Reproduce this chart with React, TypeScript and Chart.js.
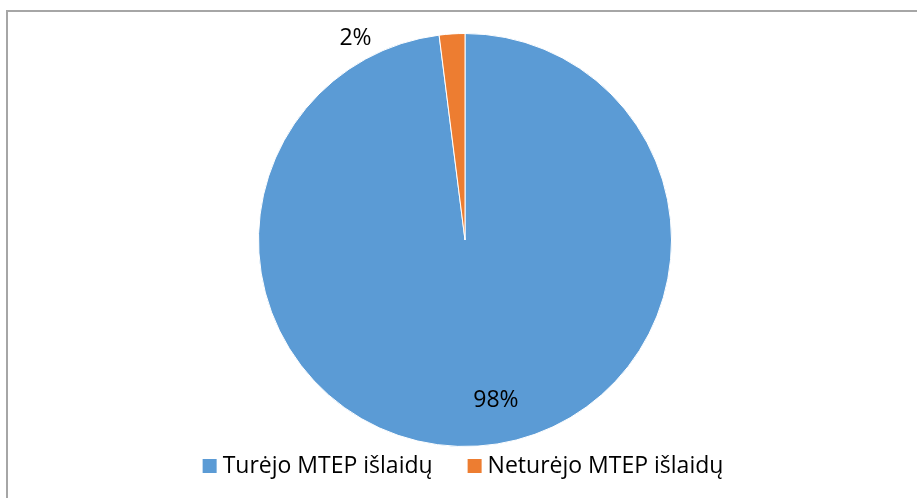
import React, { useEffect, useRef } from "react";
import { Chart, registerables } from "chart.js";

Chart.register(...registerables);

const categories = ["Turėjo MTEP išlaidų", "Neturėjo MTEP išlaidų"];
const values = [98, 2];
const colors = ["#5B9BD5", "#ED7D31"];
const valueLabels = ["98%", "2%"];

const FONT = "'Open Sans', sans-serif";
const FONT_SIZE = 23;

const labelPlugin = {
  id: "excelLabels",
  afterDraw(chart: any) {
    const ctx = chart.ctx as CanvasRenderingContext2D;
    const meta = chart.getDatasetMeta(0);
    const arc0 = meta.data[0] as any;
    const cx = arc0.x;
    const cy = arc0.y;
    const r = arc0.outerRadius;
    ctx.save();
    ctx.fillStyle = "#000000";
    ctx.font = `${FONT_SIZE}px ${FONT}`;
    ctx.textAlign = "center";
    ctx.textBaseline = "middle";
    // inside label for large slice
    ctx.fillText(valueLabels[0], cx + r * 0.15, cy + r * 0.775);
    // outside label for small slice
    ctx.fillText(valueLabels[1], cx - r * 0.53, cy - r * 0.975);

    // legend
    const sq = 14;
    const gapSq = 6;
    const gapItems = 35;
    const widths = categories.map((c) => sq + gapSq + ctx.measureText(c).width);
    const total = widths.reduce((a, b) => a + b, 0) + gapItems * (categories.length - 1);
    let x = cx - total / 2 - 2;
    const y = chart.chartArea.bottom + 19;
    ctx.textAlign = "left";
    categories.forEach((c, i) => {
      ctx.fillStyle = colors[i];
      ctx.fillRect(x, y - sq / 2, sq, sq);
      ctx.fillStyle = "#000000";
      ctx.fillText(c, x + sq + gapSq, y);
      x += widths[i] + gapItems;
    });
    ctx.restore();
  },
};

export default function App() {
  const ref = useRef<HTMLCanvasElement | null>(null);
  useEffect(() => {
    document.body.style.overflow = "hidden";
    const chart = new Chart(ref.current as HTMLCanvasElement, {
      type: "pie",
      data: {
        labels: categories,
        datasets: [
          {
            data: values,
            backgroundColor: colors,
            borderColor: "#ffffff",
            borderWidth: 1,
          },
        ],
      },
      options: {
        responsive: false,
        animation: false,
        layout: { padding: { top: 33, bottom: 51, left: 258, right: 245 } },
        plugins: {
          legend: { display: false },
          tooltip: { enabled: false },
        },
      },
      plugins: [labelPlugin],
    });
    return () => chart.destroy();
  }, []);
  return (
    <div>
      <div
        style={{
          position: "fixed",
          left: 6,
          top: 10,
          right: -20,
          bottom: -20,
          borderLeft: "2px solid #a6a6a6",
          borderTop: "2px solid #a6a6a6",
          background: "#ffffff",
        }}
      />
      <canvas
        ref={ref}
        width={917}
        height={498}
        style={{ position: "fixed", left: 0, top: 0, width: 917, height: 498 }}
      />
    </div>
  );
}
